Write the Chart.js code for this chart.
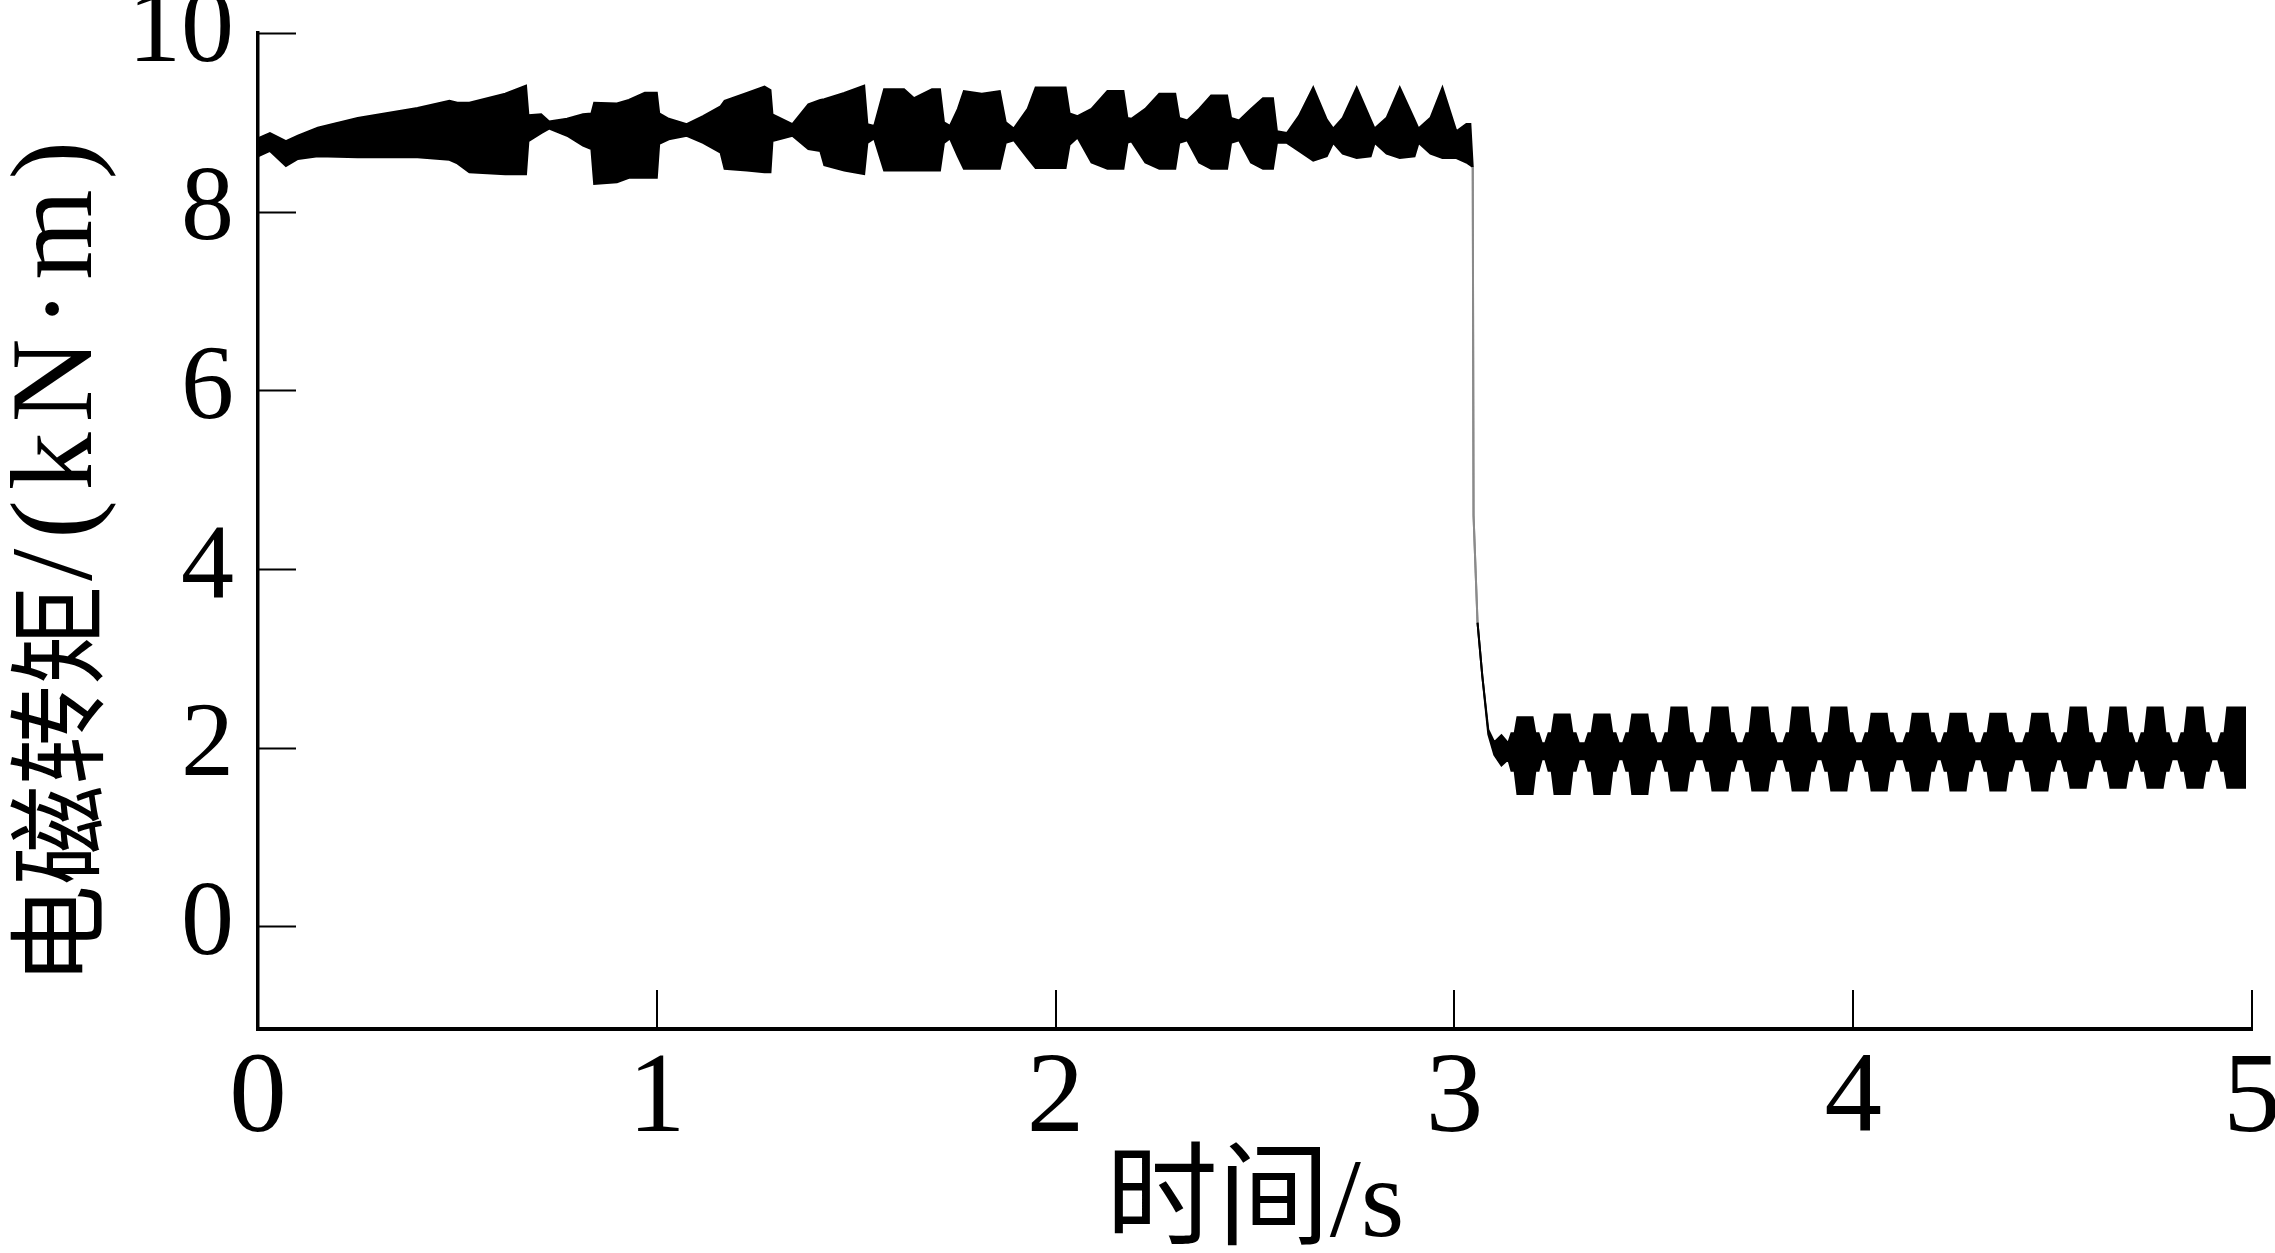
<!DOCTYPE html>
<html lang="zh">
<head>
  <meta charset="UTF-8">
  <title>电磁转矩</title>
  <script src="https://cdn.jsdelivr.net/npm/chart.js"></script>
  <style>
    body { margin: 0; background: #ffffff; }
    #wrap { width: 2275px; height: 1253px; }
  </style>
</head>
<body>
  <div id="wrap"><canvas id="torqueChart" width="2275" height="1253"></canvas></div>

  <script>
    // axis ticks and titles
    const xTicks = [0, 1, 2, 3, 4, 5];
    const yTicks = [0, 2, 4, 6, 8, 10];
    const xTitle = '时间/s';
    const yTitleName = '电磁转矩';
    const yTitleUnit = '/(kN·m)';

    // time (s) and the upper / lower edge of the torque band (kN·m)
    const timeS = [
      0.000, 0.030, 0.070, 0.100, 0.150, 0.250, 0.400, 0.480, 0.500, 0.530,
      0.620, 0.672, 0.678, 0.710, 0.730, 0.775, 0.815, 0.836, 0.843, 0.900,
      0.930, 0.970, 1.000, 1.006, 1.030, 1.075, 1.116, 1.160, 1.170, 1.226,
      1.270, 1.285, 1.290, 1.340, 1.380, 1.410, 1.420, 1.470, 1.520, 1.528,
      1.545, 1.570, 1.620, 1.645, 1.690, 1.710, 1.720, 1.735, 1.755, 1.770,
      1.815, 1.860, 1.875, 1.895, 1.930, 1.950, 2.025, 2.035, 2.055, 2.090,
      2.130, 2.170, 2.180, 2.190, 2.225, 2.260, 2.300, 2.310, 2.330, 2.360,
      2.390, 2.430, 2.440, 2.460, 2.490, 2.520, 2.545, 2.555, 2.580, 2.610,
      2.646, 2.680, 2.696, 2.720, 2.755, 2.790, 2.800, 2.830, 2.863, 2.900,
      2.910, 2.940, 2.970, 3.005, 3.030, 3.040, 3.046, 3.048, 3.058, 3.070,
      3.085, 3.100, 3.118,
      3.135, 3.143, 3.151, 3.158, 3.196, 3.203, 3.211, 3.219,
      3.228, 3.236, 3.244, 3.251, 3.289, 3.296, 3.304, 3.312,
      3.328, 3.336, 3.344, 3.351, 3.389, 3.396, 3.404, 3.412,
      3.423, 3.431, 3.439, 3.446, 3.484, 3.491, 3.499, 3.507,
      3.521, 3.529, 3.537, 3.544, 3.582, 3.589, 3.597, 3.605,
      3.624, 3.632, 3.640, 3.647, 3.685, 3.692, 3.700, 3.708,
      3.724, 3.732, 3.740, 3.747, 3.785, 3.792, 3.800, 3.808,
      3.825, 3.833, 3.841, 3.848, 3.886, 3.893, 3.901, 3.909,
      3.922, 3.930, 3.938, 3.945, 3.983, 3.990, 3.998, 4.006,
      4.023, 4.031, 4.039, 4.046, 4.084, 4.091, 4.099, 4.107,
      4.126, 4.134, 4.142, 4.149, 4.187, 4.194, 4.202, 4.210,
      4.221, 4.229, 4.237, 4.244, 4.282, 4.289, 4.297, 4.305,
      4.321, 4.329, 4.337, 4.344, 4.382, 4.389, 4.397, 4.405,
      4.426, 4.434, 4.442, 4.449, 4.487, 4.494, 4.502, 4.510,
      4.522, 4.530, 4.538, 4.545, 4.583, 4.590, 4.598, 4.606,
      4.622, 4.630, 4.638, 4.645, 4.683, 4.690, 4.698, 4.706,
      4.715, 4.723, 4.731, 4.738, 4.776, 4.783, 4.791, 4.799,
      4.815, 4.823, 4.831, 4.838, 4.876, 4.883, 4.891, 4.899,
      4.915, 4.923, 4.931, 4.938, 4.985
    ];

    const torqueUpper = [
      8.82, 8.88, 8.79, 8.85, 8.94, 9.05, 9.16, 9.24, 9.22, 9.22,
      9.32, 9.41, 9.08, 9.09, 9.01, 9.04, 9.09, 9.10, 9.22, 9.21,
      9.25, 9.33, 9.33, 9.10, 9.04, 8.98, 9.07, 9.18, 9.24, 9.33,
      9.40, 9.36, 9.09, 8.98, 9.20, 9.25, 9.26, 9.33, 9.41, 8.98,
      8.96, 9.37, 9.37, 9.27, 9.37, 9.37, 9.00, 8.96, 9.15, 9.35,
      9.32, 9.35, 9.00, 8.93, 9.15, 9.39, 9.39, 9.10, 9.07, 9.15,
      9.35, 9.35, 9.05, 9.04, 9.15, 9.32, 9.32, 9.05, 9.02, 9.15,
      9.30, 9.30, 9.05, 9.02, 9.15, 9.27, 9.27, 8.90, 8.88, 9.07,
      9.39, 9.03, 8.93, 9.05, 9.39, 9.03, 8.93, 9.05, 9.39, 9.03,
      8.93, 9.05, 9.39, 8.90, 8.98, 8.98, 8.50, 4.60, 3.40, 2.80,
      2.20, 2.06, 2.14,
      2.05, 2.16, 2.16, 2.34, 2.34, 2.16, 2.16, 2.05,
      2.05, 2.16, 2.16, 2.37, 2.37, 2.16, 2.16, 2.05,
      2.05, 2.16, 2.16, 2.37, 2.37, 2.16, 2.16, 2.05,
      2.05, 2.16, 2.16, 2.37, 2.37, 2.16, 2.16, 2.05,
      2.05, 2.16, 2.16, 2.45, 2.45, 2.16, 2.16, 2.05,
      2.05, 2.16, 2.16, 2.45, 2.45, 2.16, 2.16, 2.05,
      2.05, 2.16, 2.16, 2.45, 2.45, 2.16, 2.16, 2.05,
      2.05, 2.16, 2.16, 2.45, 2.45, 2.16, 2.16, 2.05,
      2.05, 2.16, 2.16, 2.45, 2.45, 2.16, 2.16, 2.05,
      2.05, 2.16, 2.16, 2.38, 2.38, 2.16, 2.16, 2.05,
      2.05, 2.16, 2.16, 2.38, 2.38, 2.16, 2.16, 2.05,
      2.05, 2.16, 2.16, 2.38, 2.38, 2.16, 2.16, 2.05,
      2.05, 2.16, 2.16, 2.38, 2.38, 2.16, 2.16, 2.05,
      2.05, 2.16, 2.16, 2.38, 2.38, 2.16, 2.16, 2.05,
      2.05, 2.16, 2.16, 2.45, 2.45, 2.16, 2.16, 2.05,
      2.05, 2.16, 2.16, 2.45, 2.45, 2.16, 2.16, 2.05,
      2.05, 2.16, 2.16, 2.45, 2.45, 2.16, 2.16, 2.05,
      2.05, 2.16, 2.16, 2.45, 2.45, 2.16, 2.16, 2.05,
      2.05, 2.16, 2.16, 2.45, 2.45
    ];

    const torqueLower = [
      8.62, 8.68, 8.51, 8.59, 8.62, 8.61, 8.61, 8.58, 8.54, 8.44,
      8.42, 8.42, 8.79, 8.88, 8.93, 8.85, 8.74, 8.70, 8.31, 8.33,
      8.38, 8.38, 8.38, 8.76, 8.81, 8.85, 8.77, 8.66, 8.48, 8.46,
      8.44, 8.44, 8.79, 8.85, 8.70, 8.68, 8.52, 8.46, 8.42, 8.77,
      8.82, 8.46, 8.46, 8.46, 8.46, 8.46, 8.77, 8.82, 8.62, 8.48,
      8.48, 8.48, 8.77, 8.80, 8.60, 8.49, 8.49, 8.75, 8.83, 8.55,
      8.48, 8.48, 8.77, 8.79, 8.55, 8.48, 8.48, 8.77, 8.80, 8.55,
      8.48, 8.48, 8.77, 8.80, 8.55, 8.48, 8.48, 8.77, 8.77, 8.68,
      8.57, 8.62, 8.77, 8.65, 8.60, 8.62, 8.77, 8.65, 8.60, 8.62,
      8.77, 8.65, 8.60, 8.60, 8.55, 8.52, 8.50, 4.60, 3.40, 2.80,
      2.15, 1.92, 1.80,
      1.87, 1.74, 1.74, 1.48, 1.48, 1.74, 1.74, 1.87,
      1.87, 1.74, 1.74, 1.48, 1.48, 1.74, 1.74, 1.87,
      1.87, 1.74, 1.74, 1.48, 1.48, 1.74, 1.74, 1.87,
      1.87, 1.74, 1.74, 1.48, 1.48, 1.74, 1.74, 1.87,
      1.87, 1.74, 1.74, 1.52, 1.52, 1.74, 1.74, 1.87,
      1.87, 1.74, 1.74, 1.52, 1.52, 1.74, 1.74, 1.87,
      1.87, 1.74, 1.74, 1.52, 1.52, 1.74, 1.74, 1.87,
      1.87, 1.74, 1.74, 1.52, 1.52, 1.74, 1.74, 1.87,
      1.87, 1.74, 1.74, 1.52, 1.52, 1.74, 1.74, 1.87,
      1.87, 1.74, 1.74, 1.52, 1.52, 1.74, 1.74, 1.87,
      1.87, 1.74, 1.74, 1.52, 1.52, 1.74, 1.74, 1.87,
      1.87, 1.74, 1.74, 1.52, 1.52, 1.74, 1.74, 1.87,
      1.87, 1.74, 1.74, 1.52, 1.52, 1.74, 1.74, 1.87,
      1.87, 1.74, 1.74, 1.52, 1.52, 1.74, 1.74, 1.87,
      1.87, 1.74, 1.74, 1.55, 1.55, 1.74, 1.74, 1.87,
      1.87, 1.74, 1.74, 1.55, 1.55, 1.74, 1.74, 1.87,
      1.87, 1.74, 1.74, 1.55, 1.55, 1.74, 1.74, 1.87,
      1.87, 1.74, 1.74, 1.55, 1.55, 1.74, 1.74, 1.87,
      1.87, 1.74, 1.74, 1.55, 1.55
    ];

    const serif = '"Liberation Serif", "Noto Sans CJK SC", serif';

    // the step down after 3 s is drawn as a thin grey stroke
    function dropColor(ctx) {
      const dy = Math.abs(ctx.p0.parsed.y - ctx.p1.parsed.y);
      return (ctx.p0.parsed.x > 3 && dy > 0.9) ? '#8a8a8a' : '#000000';
    }

    // tick marks point into the plot
    const innerTicks = {
      id: 'innerTicks',
      afterDraw(chart) {
        const { ctx, chartArea: a, scales: { x, y } } = chart;
        ctx.save();
        ctx.strokeStyle = '#000';
        ctx.lineWidth = 2;
        ctx.beginPath();
        yTicks.forEach(v => {
          const py = Math.round(y.getPixelForValue(v)) + 0.5;
          ctx.moveTo(a.left, py);
          ctx.lineTo(a.left + 38, py);
        });
        xTicks.forEach(v => {
          const px = Math.round(x.getPixelForValue(v));
          ctx.moveTo(px, a.bottom);
          ctx.lineTo(px, a.bottom - 39);
        });
        ctx.stroke();
        ctx.restore();
      }
    };

    // y title: Chinese name plus a larger serif unit, read bottom to top
    const yTitle = {
      id: 'yTitle',
      afterDraw(chart) {
        const ctx = chart.ctx;
        ctx.save();
        ctx.translate(57, 985);
        ctx.rotate(-Math.PI / 2);
        ctx.fillStyle = '#000';
        ctx.textBaseline = 'middle';
        ctx.textAlign = 'left';
        ctx.font = '100px "Noto Sans CJK SC"';
        ctx.fillText(yTitleName, 0, 0);
        const w = ctx.measureText(yTitleName).width;
        ctx.font = '116px "Liberation Serif"';
        ctx.letterSpacing = '10px';
        ctx.fillText(yTitleUnit, w + 4, 4);
        ctx.restore();
      }
    };

    const toPoints = vals => timeS.map((t, i) => ({ x: t, y: vals[i] }));

    new Chart(document.getElementById('torqueChart'), {
      type: 'line',
      data: {
        datasets: [
          {
            label: 'upper',
            data: toPoints(torqueUpper),
            borderColor: '#000',
            backgroundColor: '#000',
            borderWidth: 2,
            pointRadius: 0,
            tension: 0,
            fill: '+1',
            segment: { borderColor: dropColor }
          },
          {
            label: 'lower',
            data: toPoints(torqueLower),
            borderColor: '#000',
            borderWidth: 2,
            pointRadius: 0,
            tension: 0,
            fill: false,
            segment: { borderColor: dropColor }
          }
        ]
      },
      options: {
        responsive: false,
        animation: false,
        devicePixelRatio: 1,
        layout: { padding: { top: 33, right: 23, left: 0, bottom: 0 } },
        plugins: { legend: { display: false }, tooltip: { enabled: false } },
        scales: {
          x: {
            type: 'linear',
            min: 0,
            max: 5,
            afterBuildTicks: s => { s.ticks = xTicks.map(v => ({ value: v })); },
            afterFit: s => { s.height = 224; s.paddingLeft = 0; s.paddingRight = 0; },
            grid: { drawOnChartArea: false, drawTicks: false },
            border: { color: '#000', width: 4 },
            ticks: {
              color: '#000',
              padding: 14,
              autoSkip: false,
              maxRotation: 0,
              font: { family: serif, size: 115, lineHeight: 1 }
            },
            title: {
              display: true,
              text: xTitle,
              color: '#000',
              font: { family: serif, size: 112, lineHeight: 0.82 },
              padding: { top: 0, bottom: 0 }
            }
          },
          y: {
            min: -1.15,
            max: 10,
            afterBuildTicks: s => { s.ticks = yTicks.map(v => ({ value: v })); },
            afterFit: s => { s.width = 258; s.paddingTop = 0; s.paddingBottom = 0; },
            grid: { drawOnChartArea: false, drawTicks: false },
            border: { color: '#000', width: 3.5 },
            ticks: {
              color: '#000',
              padding: 24,
              font: { family: serif, size: 106 }
            }
          }
        }
      },
      plugins: [innerTicks, yTitle]
    });
  </script>
</body>
</html>
